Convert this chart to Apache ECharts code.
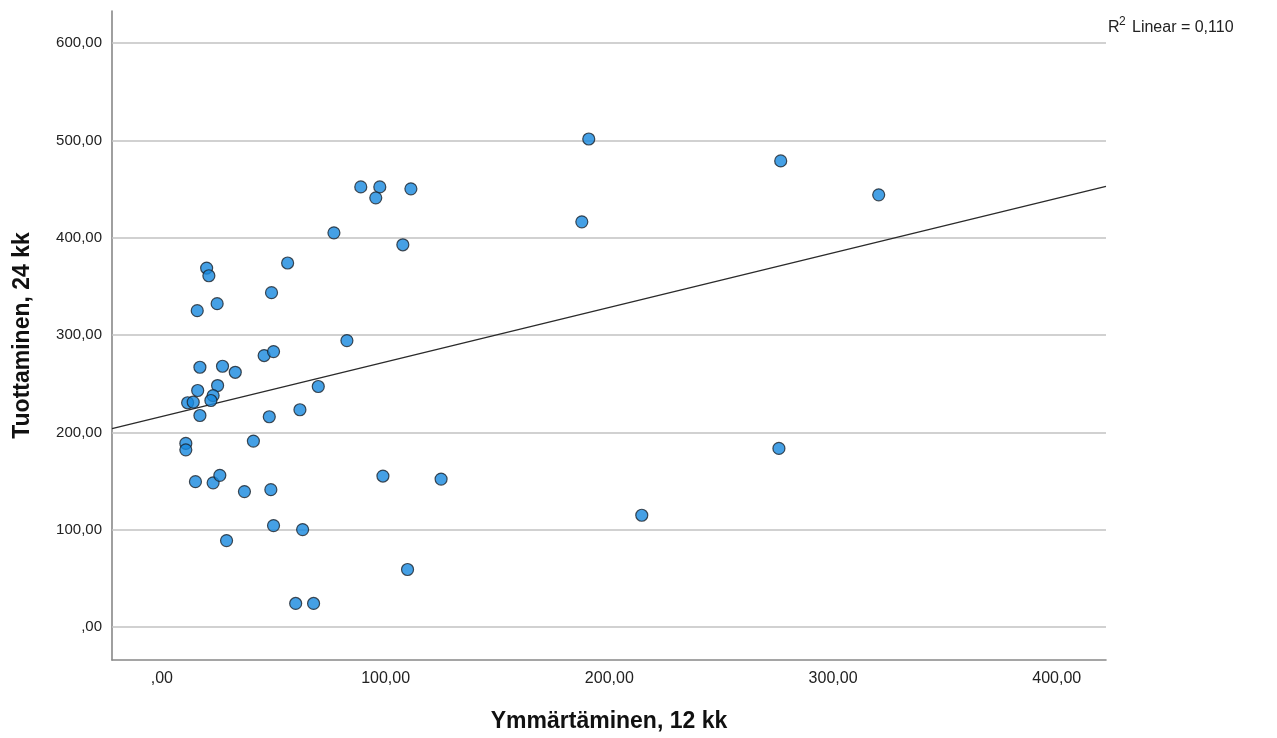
<!DOCTYPE html>
<html>
<head>
<meta charset="utf-8">
<script src="https://cdn.jsdelivr.net/npm/echarts@6/dist/echarts.min.js"></script>
<style>
html,body{margin:0;padding:0;background:#fff;}
#chart{width:1277px;height:738px;}
</style>
</head>
<body>
<div id="chart"></div>
<script>
// Data
const xValues = [190.8, 276.6, 320.4, 88.9, 97.4, 95.6, 111.3, 187.7, 76.9, 107.7,
  56.2, 20.0, 21.0, 24.7, 15.8, 49.0, 82.7, 45.7, 49.9, 17.0,
  27.1, 32.8, 24.9, 69.9, 16.0, 11.5, 14.0, 22.9, 21.9, 17.0,
  48.0, 61.7, 10.7, 10.7, 40.9, 275.8, 15.0, 22.9, 25.9, 36.9,
  48.7, 98.8, 124.8, 49.9, 62.9, 28.9, 214.5, 109.8, 59.8, 67.8];
const yValues = [501.5, 479.0, 444.1, 452.3, 452.3, 441.0, 450.3, 416.4, 405.1, 392.8,
  374.1, 368.9, 361.0, 332.3, 325.1, 343.6, 294.4, 279.0, 283.1, 267.0,
  268.0, 261.8, 248.2, 247.2, 243.1, 230.5, 231.1, 237.9, 232.8, 217.4,
  216.1, 223.3, 188.7, 182.1, 191.1, 183.6, 149.4, 148.2, 155.9, 139.2,
  141.2, 155.2, 152.1, 104.3, 100.2, 88.9, 114.9, 59.2, 24.3, 24.3];
const xTicks = [0, 100, 200, 300, 400];
const yTicks = [0, 100, 200, 300, 400, 500, 600];
const xRange = [-22.3, 422];
const yRange = [-33.8, 633];
const fitIntercept = 216.5;   // linear fit
const fitSlope = 0.5600;
const xTitle = 'Ymmärtäminen, 12 kk';
const yTitle = 'Tuottaminen, 24 kk';
const r2Text = 'Linear = 0,110';

const fmt = v => {
  if (v === 0) return ',00';
  return v.toFixed(2).replace('.', ',');
};

const points = xValues.map((x, i) => [x, yValues[i]]);
const fitLine = xRange.map(x => [x, fitIntercept + fitSlope * x]);

const chart = echarts.init(document.getElementById('chart'), null, {renderer: 'canvas'});
const FONT = '"Liberation Sans", Arial, sans-serif';

chart.setOption({
  animation: false,
  backgroundColor: '#ffffff',
  grid: {left: 112, right: 171, top: 11, bottom: 77, containLabel: false},
  xAxis: {
    type: 'value',
    min: xRange[0], max: xRange[1],
    name: xTitle,
    nameLocation: 'middle',
    nameGap: 50,
    nameTextStyle: {fontFamily: FONT, fontSize: 23, fontWeight: 'bold', color: '#111'},
    axisLine: {show: true, onZero: false, lineStyle: {color: '#888888', width: 1.6}},
    axisTick: {show: false, customValues: xTicks},
    axisLabel: {customValues: xTicks, formatter: fmt, margin: 11,
      fontFamily: FONT, fontSize: 16, color: '#222'},
    splitLine: {show: false}
  },
  yAxis: {
    type: 'value',
    min: yRange[0], max: yRange[1],
    name: yTitle,
    nameLocation: 'middle',
    nameGap: 78,
    nameTextStyle: {fontFamily: FONT, fontSize: 23, fontWeight: 'bold', color: '#111'},
    axisLine: {show: true, onZero: false, lineStyle: {color: '#888888', width: 1.6}},
    axisTick: {show: false, customValues: yTicks},
    axisLabel: {customValues: yTicks, formatter: fmt, margin: 10,
      fontFamily: FONT, fontSize: 15, color: '#222'},
    splitLine: {show: false}
  },
  series: [
    {
      type: 'scatter',
      data: points,
      symbol: 'circle',
      symbolSize: 12,
      itemStyle: {color: '#1688df', borderColor: '#1a222b', borderWidth: 1.2},
      z: 5,
      markLine: {
        silent: true,
        symbol: 'none',
        label: {show: false},
        lineStyle: {color: '#c2c2c2', width: 1.5, type: 'solid'},
        data: yTicks.map(v => ({yAxis: v})),
        z: 1
      }
    },
    {
      type: 'line',
      data: fitLine,
      symbol: 'none',
      clip: true,
      lineStyle: {color: '#2a2a2a', width: 1.3},
      z: 3
    }
  ],
  graphic: [
    {type: 'text', left: 1108, top: 20, style: {text: 'R', font: '16px ' + FONT, fill: '#222'}},
    {type: 'text', left: 1119, top: 16, style: {text: '2', font: '12px ' + FONT, fill: '#222'}},
    {type: 'text', left: 1132, top: 20, style: {text: r2Text, font: '16px ' + FONT, fill: '#222'}}
  ]
});
</script>
</body>
</html>
